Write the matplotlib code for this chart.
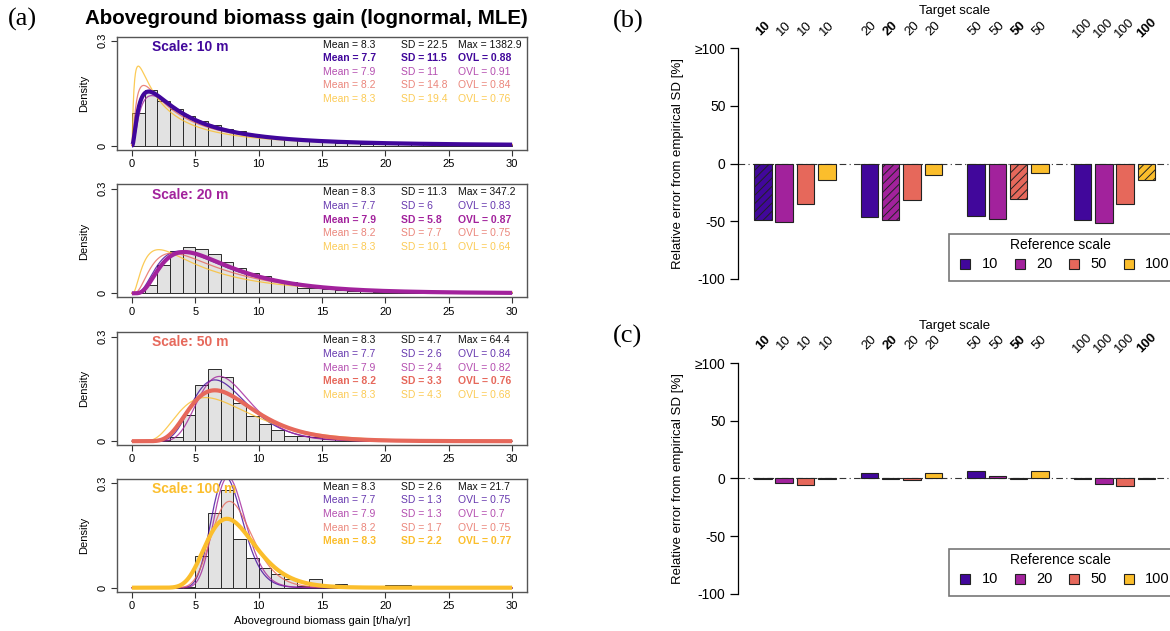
import numpy as np
import matplotlib
matplotlib.use("Agg")
import matplotlib.pyplot as plt
from matplotlib.patches import Rectangle
from matplotlib.transforms import blended_transform_factory

plt.rcParams['font.family'] = ['Liberation Sans', 'DejaVu Sans']
plt.rcParams['hatch.linewidth'] = 0.7

# ---------------- data ----------------
scales = [10, 20, 50, 100]
scale_colors = ["#41079B", "#A2229C", "#E6685B", "#FBBE2C"]

# histogram densities, bins of width 1 from 0 to 30
hist_10 = [0.092, 0.158, 0.128, 0.104, 0.084, 0.070, 0.058, 0.048, 0.041, 0.034,
           0.028, 0.024, 0.019, 0.015, 0.012, 0.0096, 0.0077, 0.0065, 0.0055, 0.0048,
           0.0042, 0.0037, 0.0033, 0.0029, 0.0026, 0.0023, 0.0021, 0.0019, 0.0017, 0.0015]
hist_20 = [0.001, 0.024, 0.081, 0.120, 0.134, 0.127, 0.112, 0.091, 0.072, 0.058,
           0.050, 0.035, 0.031, 0.016, 0.015, 0.0115, 0.0105, 0.008, 0.006, 0.005,
           0.004, 0.0035, 0.003, 0.0025, 0.002, 0.002, 0.0015, 0.0015, 0.001, 0.001]
hist_50 = [0.0, 0.0, 0.003, 0.012, 0.074, 0.162, 0.208, 0.185, 0.110, 0.072,
           0.050, 0.031, 0.016, 0.016, 0.0115, 0.007, 0.005, 0.004, 0.003, 0.003,
           0.002, 0.002, 0.0015, 0.001, 0.001, 0.001, 0.0005, 0.0005, 0.0005, 0.0005]
hist_100 = [0.0, 0.0, 0.0, 0.0, 0.003, 0.090, 0.213, 0.280, 0.140, 0.086,
            0.056, 0.039, 0.024, 0.005, 0.024, 0.0, 0.011, 0.0, 0.0, 0.0,
            0.007, 0.007, 0.0, 0.0, 0.0, 0.0, 0.0, 0.0, 0.0, 0.0]
hists = [hist_10, hist_20, hist_50, hist_100]

# empirical summary per scale: mean, SD, max
emp_mean = [8.3, 8.3, 8.3, 8.3]
emp_sd = [22.5, 11.3, 4.7, 2.6]
emp_max = [1382.9, 347.2, 64.4, 21.7]

# lognormal fits (rows: target scale, columns: reference scale)
fit_mean = [[7.7, 7.9, 8.2, 8.3],
            [7.7, 7.9, 8.2, 8.3],
            [7.7, 7.9, 8.2, 8.3],
            [7.7, 7.9, 8.2, 8.3]]
fit_sd = [[11.5, 11, 14.8, 19.4],
          [6, 5.8, 7.7, 10.1],
          [2.6, 2.4, 3.3, 4.3],
          [1.3, 1.3, 1.7, 2.2]]
fit_ovl = [[0.88, 0.91, 0.84, 0.76],
           [0.83, 0.87, 0.75, 0.64],
           [0.84, 0.82, 0.76, 0.68],
           [0.75, 0.7, 0.75, 0.77]]

# relative error of SD [%] (rows: target scale, columns: reference scale)
err_b = [[-49.1, -50.6, -34.7, -13.9],
         [-46.6, -49.1, -31.5, -10.2],
         [-45.7, -48.0, -30.7, -8.5],
         [-49.1, -51.7, -34.7, -14.5]]
err_c = [[-0.3, -4.0, -6.0, -0.5],
         [4.8, -0.3, -1.7, 5.0],
         [6.5, 2.3, -0.3, 6.8],
         [-0.5, -4.5, -6.5, -0.3]]

# ---------------- figure ----------------
W, H = 1170, 631
fig = plt.figure(figsize=(W / 100, H / 100), dpi=100)


def px_axes(left, top, right, bottom):
    return fig.add_axes([left / W, 1 - bottom / H, (right - left) / W, (bottom - top) / H])


def lognorm_pdf(x, m, s):
    sig2 = np.log(1 + (s / m) ** 2)
    mu = np.log(m) - sig2 / 2
    out = np.zeros_like(x)
    pos = x > 0
    out[pos] = np.exp(-(np.log(x[pos]) - mu) ** 2 / (2 * sig2)) / (x[pos] * np.sqrt(2 * np.pi * sig2))
    return out


def fmt(v):
    return f"{v:g}"


# ---------- (a) histograms ----------
zero_px = [145.5, 293.3, 441.2, 587.7]
unit_px = 349.0
bins = np.arange(30)
xx = np.linspace(0, 30, 1500)
row_y = [0.289, 0.250, 0.211, 0.172, 0.133]

for i, sc in enumerate(scales):
    z = zero_px[i]
    top = z - 0.312 * unit_px
    bot = z + 0.012 * unit_px
    ax = px_axes(116.7, top, 527.3, bot)
    ax.set_xlim(-1.2, 31.2)
    ax.set_ylim(-0.012, 0.312)
    ax.bar(bins, hists[i], width=1, align='edge', color='#E2E2E2',
           edgecolor='#2b2b2b', linewidth=0.7, zorder=1)
    # thin curves for other reference scales, bold curve for own scale
    for j in range(4):
        if j == i:
            continue
        ax.plot(xx, lognorm_pdf(xx, fit_mean[i][j], fit_sd[i][j]), color=scale_colors[j],
                lw=0.9, alpha=0.8, zorder=2)
    ax.plot(xx, lognorm_pdf(xx, fit_mean[i][i], fit_sd[i][i]), color=scale_colors[i],
            lw=3.0, zorder=3, solid_capstyle='butt')

    for sp in ax.spines.values():
        sp.set_color('#555555')
        sp.set_linewidth(1.0)
    ax.set_xticks(range(0, 31, 5))
    ax.set_yticks([0, 0.3])
    ax.set_yticklabels(["0", "0.3"], rotation=90, va='center')
    ax.tick_params(axis='both', labelsize=8, length=4, width=0.8, color='#333333', pad=2.5)
    ax.set_ylabel("Density", fontsize=8, labelpad=6)
    if i == 3:
        ax.set_xlabel("Aboveground biomass gain [t/ha/yr]", fontsize=8, labelpad=4)

    ax.text(1.6, 0.283, f"Scale: {sc} m", color=scale_colors[i], fontsize=10,
            fontweight='bold', ha='left', va='center')
    cols = [15.1, 21.2, 25.7]
    ax.text(cols[0], row_y[0], f"Mean = {fmt(emp_mean[i])}", fontsize=7.5, va='center', color='#111111')
    ax.text(cols[1], row_y[0], f"SD = {fmt(emp_sd[i])}", fontsize=7.5, va='center', color='#111111')
    ax.text(cols[2], row_y[0], f"Max = {fmt(emp_max[i])}", fontsize=7.5, va='center', color='#111111')
    for j in range(4):
        own = (j == i)
        w = 'bold' if own else 'normal'
        a = 1.0 if own else 0.8
        y = row_y[j + 1]
        c = scale_colors[j]
        ax.text(cols[0], y, f"Mean = {fmt(fit_mean[i][j])}", fontsize=7.5, va='center', color=c,
                fontweight=w, alpha=a)
        ax.text(cols[1], y, f"SD = {fmt(fit_sd[i][j])}", fontsize=7.5, va='center', color=c,
                fontweight=w, alpha=a)
        ax.text(cols[2], y, f"OVL = {fmt(fit_ovl[i][j])}", fontsize=7.5, va='center', color=c,
                fontweight=w, alpha=a)

fig.text(306 / W, 1 - 19 / H, "Aboveground biomass gain (lognormal, MLE)", ha='center', va='center',
         fontsize=14.8, fontweight='bold')
fig.text(8 / W, 1 - 19 / H, "(a)", ha='left', va='center', fontsize=19, family='Liberation Serif')


# ---------- (b), (c) relative error bars ----------
def error_panel(values, y_top100, label):
    px_per_unit = 1.1535
    y_zero = y_top100 + 100 * px_per_unit
    top = y_zero - 108 * px_per_unit
    bot = y_zero + 108 * px_per_unit
    ax = px_axes(738, top, 1172, bot)
    ax.set_xlim(-1.17, 19.2)
    ax.set_ylim(-108, 108)
    ax.patch.set_alpha(0)
    ax.axhline(0, color='#333333', lw=0.8, ls=(0, (6, 3, 1, 3)), zorder=1)
    for g, tgt in enumerate(scales):
        for j, ref in enumerate(scales):
            pos = g * 5 + j
            ax.bar(pos, values[g][j], width=0.82, color=scale_colors[j], edgecolor='#222222',
                   linewidth=0.8, hatch='////' if g == j else None, zorder=2)
            ax.text(pos, 1 - (y_top100 - 20) / H, str(tgt), rotation=45, ha='center', va='center',
                    rotation_mode='anchor', fontsize=9.5, fontweight='bold' if g == j else 'normal',
                    transform=blended_transform_factory(ax.transData, fig.transFigure))
    for s in ['top', 'right', 'bottom']:
        ax.spines[s].set_visible(False)
    ax.spines['left'].set_bounds(-100, 100)
    ax.spines['left'].set_linewidth(0.9)
    ax.set_xticks([])
    ax.set_yticks([-100, -50, 0, 50, 100])
    ax.set_yticklabels(["-100", "-50", "0", "50", "\u2265100"])
    ax.tick_params(axis='y', labelsize=10, length=6, width=0.9, pad=3)
    ax.set_ylabel("Relative error from empirical SD [%]", fontsize=9.5, labelpad=8)

    fig.text(955 / W, 1 - (y_top100 - 37) / H, "Target scale", ha='center', va='center', fontsize=9.5)
    fig.text(613 / W, 1 - (y_top100 - 27) / H, label, ha='left', va='center', fontsize=19,
             family='Liberation Serif')

    # legend of reference scales
    ly0 = y_top100 + 186
    fig.patches.append(Rectangle((949 / W, 1 - (ly0 + 47) / H), 230 / W, 47 / H,
                                 transform=fig.transFigure, facecolor='white',
                                 edgecolor='#777777', lw=1.2, zorder=5))
    fig.text(1060 / W, 1 - (ly0 + 10.5) / H, "Reference scale", ha='center', va='center',
             fontsize=10, zorder=6)
    for j, ref in enumerate(scales):
        cx = 965 + j * 54.5
        fig.patches.append(Rectangle(((cx - 5) / W, 1 - (ly0 + 30 + 5) / H), 10 / W, 10 / H,
                                     transform=fig.transFigure, facecolor=scale_colors[j],
                                     edgecolor='#222222', lw=0.8, zorder=6))
        fig.text((cx + 16.5) / W, 1 - (ly0 + 30) / H, str(ref), ha='left', va='center',
                 fontsize=10.5, zorder=6)


error_panel(err_b, 48.3, "(b)")
error_panel(err_c, 363.0, "(c)")

fig.savefig("out.png", dpi=100)
